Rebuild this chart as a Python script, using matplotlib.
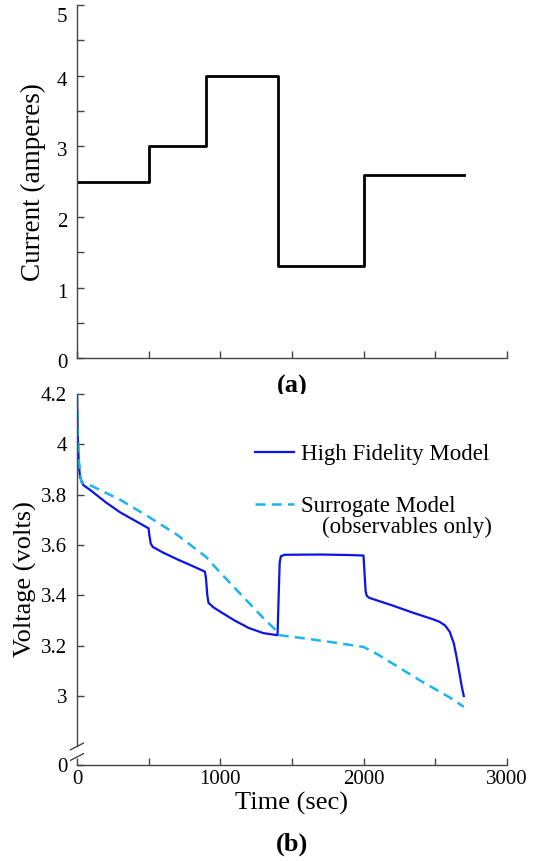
import matplotlib.pyplot as plt
import matplotlib.transforms as mtransforms
import numpy as np

plt.rcParams['font.family'] = ['Liberation Serif', 'DejaVu Serif']

# Current profile (a): step changes
t_steps = [0, 500, 900, 1400, 2000, 2700]
current = [2.5, 3.0, 4.0, 1.3, 2.6]

# Voltage (b): high fidelity model
t_hifi = [0, 5, 12, 21, 44, 100, 200, 300, 400, 500, 505, 515, 530, 600, 700, 800, 893,
          900, 910, 918, 953, 1000, 1100, 1200, 1300, 1393, 1400, 1408, 1415, 1423, 1450,
          1700, 1900, 2000, 2008, 2015, 2023, 2040, 2200, 2350, 2484, 2530, 2570, 2602,
          2630, 2648, 2670, 2685, 2700]
v_hifi = [4.2, 4.05, 3.93, 3.87, 3.838, 3.815, 3.77, 3.73, 3.698, 3.666, 3.64, 3.605, 3.592,
          3.57, 3.543, 3.518, 3.494, 3.47, 3.40, 3.37, 3.352, 3.335, 3.30, 3.27, 3.25, 3.242,
          3.242, 3.40, 3.53, 3.555, 3.561, 3.562, 3.56, 3.558, 3.48, 3.415, 3.398, 3.39,
          3.36, 3.33, 3.305, 3.295, 3.28, 3.255, 3.21, 3.16, 3.09, 3.04, 3.0]

# Voltage (b): surrogate model (observables only)
t_surr = [0, 10, 30, 100, 300, 500, 700, 900, 1000, 1100, 1200, 1300, 1400, 1410,
          1600, 1800, 2000, 2100, 2200, 2400, 2600, 2700]
v_surr = [4.2, 3.95, 3.85, 3.835, 3.78, 3.712, 3.64, 3.553, 3.49, 3.43, 3.37, 3.31, 3.255,
          3.242, 3.228, 3.212, 3.195, 3.165, 3.13, 3.06, 2.995, 2.957]

y_bottom = 2.726  # position standing for 0 below the axis break

fig = plt.figure(figsize=(5.42, 8.61), dpi=100)
ax1 = fig.add_axes([0.142, 0.584, 0.793, 0.410])
ax2 = fig.add_axes([0.142, 0.1115, 0.793, 0.431])

spine_col = '#444444'

# ---- (a) current ----
ax1.step(t_steps, current + [current[-1]], where='post', color='black', lw=2)
ax1.set_xlim(0, 3000)
ax1.set_ylim(0, 5)
ax1.set_xticks(np.arange(0, 3001, 500))
ax1.set_xticklabels([])
ax1.set_yticks([0, 1, 2, 3, 4, 5])
ax1.set_yticks(np.arange(0.5, 5, 1), minor=True)
ax1.set_ylabel('Current (amperes)', fontsize=19.5, labelpad=8)
ax1.text(0.5, -0.08, '(a)', transform=ax1.transAxes, ha='center', va='center',
         fontsize=19, fontweight='bold')

# ---- (b) voltage ----
ax2.plot(t_hifi, v_hifi, color='#0a14e6', lw=1.6, label='High Fidelity Model')
ax2.plot(t_surr, v_surr, color='#1ab4f0', lw=1.8, ls=(0, (4, 2.5)), label='Surrogate Model')
ax2.set_xlim(0, 3000)
ax2.set_ylim(y_bottom, 4.2)
ax2.set_xticks([0, 1000, 2000, 3000])
ax2.set_xticks([500, 1500, 2500], minor=True)
ax2.set_yticks([y_bottom, 3.0, 3.2, 3.4, 3.6, 3.8, 4.0, 4.2])
ax2.set_yticklabels(['0', '3', '3.2', '3.4', '3.6', '3.8', '4', '4.2'])
ax2.set_xlabel('Time (sec)', fontsize=19, labelpad=2)
ax2.set_ylabel('Voltage (volts)', fontsize=19, labelpad=3)
ax2.text(0.5, -0.215, '(b)', transform=ax2.transAxes, ha='center', va='center',
         fontsize=19, fontweight='bold')

leg = ax2.legend(loc='upper left', bbox_to_anchor=(0.367, 0.92), frameon=False,
                 fontsize=16.5, handlelength=1.7, handletextpad=0.3, labelspacing=1.35)
ax2.text(0.965, 0.639, '(observables only)', transform=ax2.transAxes,
         ha='right', va='center', fontsize=16.5)

# broken y axis
ax2.spines['left'].set_bounds(2.80, 4.2)
for yb in (0.05, 0.0216):
    ax2.plot([-0.015, 0.015], [yb - 0.009, yb + 0.009], transform=ax2.transAxes,
             color=spine_col, lw=1, clip_on=False)

for ax in (ax1, ax2):
    ax.spines['top'].set_visible(False)
    ax.spines['right'].set_visible(False)
    for s in ('left', 'bottom'):
        ax.spines[s].set_color(spine_col)
        ax.spines[s].set_linewidth(1)
    ax.tick_params(which='both', direction='in', length=5, width=1, color=spine_col,
                   labelsize=15)
    ax.tick_params(axis='y', pad=7)

# nudge the top panel's y labels down a little, as in the original
shift = mtransforms.ScaledTranslation(0, -3 / 100, fig.dpi_scale_trans)
for lab in ax1.get_yticklabels():
    lab.set_transform(lab.get_transform() + shift)
ax1.get_yticklabels()[-1].set_va('top')

fig.savefig('out.png', dpi=100)
